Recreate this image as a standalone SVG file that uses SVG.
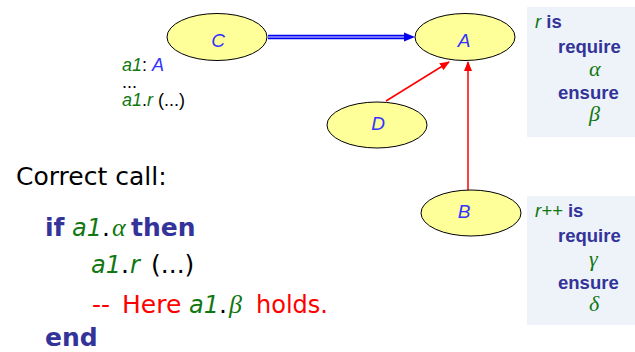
<svg xmlns="http://www.w3.org/2000/svg" width="635" height="352" viewBox="0 0 635 352">
<defs>
<style>
.node{fill:#ffff99;stroke:#000;stroke-width:1}
.lbl{font-family:"Liberation Sans",Arial,sans-serif;font-style:italic;font-size:19px;fill:#3333ff;text-anchor:middle}
.sm{font-family:"Liberation Sans",Arial,sans-serif;font-size:18px;fill:#000}
.box{fill:#eef3f9}
.bx{font-family:"Liberation Sans",Arial,sans-serif;font-size:18.5px;font-weight:bold;fill:#333399}
.g{fill:#117711;font-style:italic;font-weight:normal}
.gr{font-family:"Liberation Serif","Times New Roman",serif;font-style:italic;fill:#117711;font-weight:normal}
.big{font-family:"DejaVu Sans",Verdana,sans-serif;font-size:25px;fill:#000}
.gi{fill:#117711;font-style:italic;font-size:24px}
.kw{font-weight:bold;fill:#333399}
.red{fill:#ff0000}
.red-line{stroke:#ff0000;stroke-width:1.5;fill:none}
</style>
<marker id="ra" markerWidth="10" markerHeight="8" refX="9" refY="4" orient="auto" markerUnits="userSpaceOnUse">
<path d="M0,0 L10,4 L0,8 z" fill="#ff0000"/>
</marker>
</defs>

<g id="connectors">
<path d="M268,37 H406" stroke="#0000ee" stroke-width="4.5" fill="none"/>
<path d="M268,37 H406" stroke="#9999ff" stroke-width="1.5" fill="none"/>
<path d="M404,32.5 L415,37 L404,41.5 z" fill="#0000ee"/>
<path class="red-line" d="M386,101 L449,62" marker-end="url(#ra)"/>
<path class="red-line" d="M468,190 V62" marker-end="url(#ra)"/>
</g>

<g id="C"><ellipse class="node" cx="217" cy="37" rx="50" ry="23.5"/><text class="lbl" x="218" y="47">C</text></g>
<g id="A"><ellipse class="node" cx="465" cy="37" rx="50" ry="23.5"/><text class="lbl" x="464" y="47">A</text></g>
<g id="D"><ellipse class="node" cx="377" cy="125" rx="50" ry="23"/><text class="lbl" x="378" y="130">D</text></g>
<g id="B"><ellipse class="node" cx="471" cy="213" rx="50" ry="23"/><text class="lbl" x="464" y="218">B</text></g>

<g id="client">
<text class="sm" x="122" y="71"><tspan fill="#117711" font-style="italic">a1</tspan>: <tspan fill="#3333ff" font-style="italic">A</tspan></text>
<text class="sm" x="122" y="88">...</text>
<text class="sm" x="122" y="106"><tspan fill="#117711" font-style="italic">a1</tspan>.<tspan fill="#117711" font-style="italic">r</tspan> (...)</text>
</g>

<g id="contractA">
<rect class="box" x="527" y="7" width="108" height="130"/>
<text class="bx" x="535" y="28"><tspan class="g">r</tspan> is</text>
<text class="bx" x="558" y="53">require</text>
<text class="gr" x="589" y="76" font-size="22">α</text>
<text class="bx" x="558" y="99">ensure</text>
<text class="gr" x="589" y="121" font-size="22">β</text>
</g>

<g id="contractB">
<rect class="box" x="527" y="196" width="108" height="129"/>
<text class="bx" x="535" y="217"><tspan class="g">r++</tspan> is</text>
<text class="bx" x="558" y="242">require</text>
<text class="gr" x="589" y="266" font-size="22">γ</text>
<text class="bx" x="558" y="289">ensure</text>
<text class="gr" x="589" y="311" font-size="22">δ</text>
</g>

<g id="code">
<text class="big" x="16" y="185" font-size="25.5">Correct call:</text>
<text class="big" y="236"><tspan class="kw" x="45">if</tspan><tspan x="72" class="gi">a1</tspan><tspan x="102">.</tspan><tspan x="112" class="gr" font-size="26">α</tspan><tspan class="kw" x="131">then</tspan></text>
<text class="big" y="273"><tspan x="91" class="gi">a1</tspan><tspan x="121">.</tspan><tspan x="130" class="gi">r</tspan><tspan x="151">(...)</tspan></text>
<text class="big red" y="313"><tspan x="92">--</tspan><tspan x="122">Here</tspan><tspan x="189" class="gi">a1</tspan><tspan x="219" fill="#000">.</tspan><tspan x="229" class="gr" font-size="26">β</tspan><tspan x="256" font-size="24">holds.</tspan></text>
<text class="big kw" x="45" y="346">end</text>
</g>
</svg>
